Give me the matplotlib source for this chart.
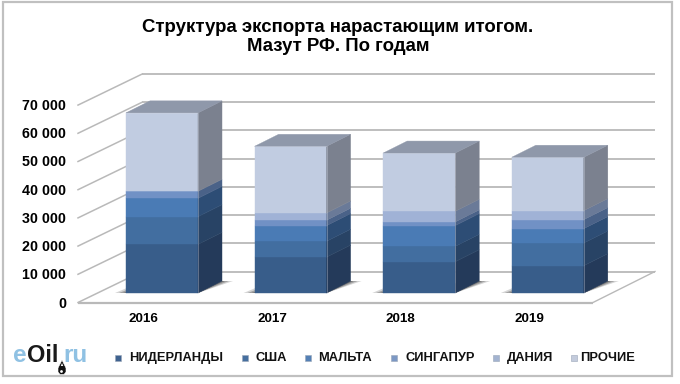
import matplotlib
matplotlib.use("Agg")
import matplotlib.pyplot as plt
from matplotlib.patches import Polygon, Rectangle
import numpy as np

plt.rcParams['font.family'] = ['Liberation Sans', 'DejaVu Sans']

years = ['2016', '2017', '2018', '2019']
series_names = ['НИДЕРЛАНДЫ', 'США', 'МАЛЬТА', 'СИНГАПУР', 'ДАНИЯ', 'ПРОЧИЕ']
niderlandy = [17240, 12750, 11100, 9670]
ssha = [9820, 5580, 5430, 8070]
malta = [6530, 5580, 7370, 5080]
singapur = [2490, 1890, 1300, 3190]
dania = [0, 2590, 3790, 3190]
prochie = [27800, 23620, 20630, 18930]
y_ticks = [0, 10000, 20000, 30000, 40000, 50000, 60000, 70000]
title_lines = 'Структура экспорта нарастающим итогом.\nМазут РФ. По годам'

front_cols = ['#385d8a', '#426ea0', '#4a7bb5', '#7191c5', '#a0b2d6', '#c1cce1']
side_cols = ['#243a5a', '#284365', '#2d4d75', '#4a6288', '#6a7a98', '#7b818f']
top_col = '#8f98aa'
legend_cols = ['#3f628f', '#466f9f', '#5480b5', '#7c98c4', '#a3b3d0', '#c3cbdc']
grid_col = '#b9b9b9'

W, H = 680, 384
PX_CAT = 128.6      # pixels per category
PX_VAL = 28.2 / 10000  # pixels per unit
X0, Y0 = 162.0, 293.0  # pixel of category 0 / value 0 at the bars' base

fig = plt.figure(figsize=(W / 100, H / 100), dpi=100, facecolor='white')
ax = fig.add_axes([0, 0, 1, 1])
ax.set_xlim(-X0 / PX_CAT, (W - X0) / PX_CAT)
ax.set_ylim((Y0 - H) / PX_VAL, Y0 / PX_VAL)
ax.axis('off')

def dx(px):
    return px / PX_CAT

def dy(px):
    return px / PX_VAL

def P(px, py):
    """pixel position to data position"""
    return ((px - X0) / PX_CAT, (Y0 - py) / PX_VAL)

# outer frame
ax.add_patch(Polygon([P(3, 2), P(672, 2), P(672, 376), P(3, 376)], closed=True, fill=False,
                     edgecolor='#c0c0c0', lw=1.6, zorder=1))

# wall grid: back lines and left obliques
floor_back_y = P(0, 271.5)[1]
bl = -X0 / PX_CAT + dx(142)
br = -X0 / PX_CAT + dx(655)
fl = -X0 / PX_CAT + dx(78)
for v in y_ticks:
    yb = floor_back_y + v
    ax.plot([bl, br], [yb, yb], color=grid_col, lw=1.3, zorder=2, solid_capstyle='butt')
    ax.plot([fl, bl], [yb - dy(31), yb], color=grid_col, lw=1.1, zorder=2)

# floor front and right edges
fr = -X0 / PX_CAT + dx(593)
y_front = floor_back_y - dy(31)
ax.plot([fl, fr], [y_front, y_front], color=grid_col, lw=1.6, zorder=2, solid_capstyle='butt')
ax.plot([fr, br], [y_front, floor_back_y], color=grid_col, lw=1.0, zorder=2)

# bars
stack = np.array([niderlandy, ssha, malta, singapur, dania, prochie], dtype=float)
x = np.arange(len(years))
bw = 72 / PX_CAT
ddx, ddy = dx(24), dy(12)

# floor shadows
for xi in x:
    l, r = xi - bw / 2, xi + bw / 2
    for grow, alpha in zip([11, 7, 3], [0.2, 0.3, 0.4]):
        ax.add_patch(Polygon([(l - dx(grow), 0), (r, 0), (r + ddx + dx(grow), ddy),
                              (r + ddx, ddy), (l + dx(2), dy(grow * 0.5))],
                             closed=True, facecolor='#303030', edgecolor='none',
                             alpha=alpha, zorder=3))

bottom = np.zeros(len(years))
for i, vals in enumerate(stack):
    ax.bar(x, vals, bw, bottom=bottom, color=front_cols[i], edgecolor=front_cols[i],
           linewidth=0.3, zorder=5)
    for xi, b, v in zip(x, bottom, vals):
        if v <= 0:
            continue
        r = xi + bw / 2
        ax.add_patch(Polygon([(r, b), (r + ddx, b + ddy), (r + ddx, b + v + ddy), (r, b + v)],
                             closed=True, facecolor=side_cols[i], edgecolor=side_cols[i],
                             lw=0.3, zorder=5))
    bottom += vals

for xi, t in zip(x, bottom):
    l, r = xi - bw / 2, xi + bw / 2
    ax.add_patch(Polygon([(l, t), (r, t), (r + ddx, t + ddy), (l + ddx, t + ddy)],
                         closed=True, facecolor=top_col, edgecolor=top_col, lw=0.3, zorder=5))
    ax.plot([l, r, r], [t, t, 0], color='#d5dbe8', lw=0.7, alpha=0.35, zorder=6)

# y tick labels
for v in y_ticks:
    ax.text(P(66, 0)[0], y_front + v - dy(1), f'{v:,}'.replace(',', ' '), ha='right', va='center',
            fontsize=10.3, fontweight='bold', color='black', zorder=7)

# x tick labels
for xi, yr in zip(x, years):
    ax.text(xi - dx(18.5), P(0, 318.5)[1], yr, ha='center', va='center',
            fontsize=9.6, fontweight='bold', color='black', zorder=7)

# title
ax.text(P(338, 0)[0], P(0, 37)[1], title_lines, ha='center', va='center',
        fontsize=13.4, fontweight='bold', color='black', linespacing=1.12, zorder=7)

# legend
sq_px = [117.5, 245, 308, 393.5, 496, 574]
tx_px = [129, 256, 318, 405, 507, 580]
for name, col, sx, tx in zip(series_names, legend_cols, sq_px, tx_px):
    ax.add_patch(Rectangle(P(sx - 3, 361), dx(6), dy(6), facecolor=col,
                           edgecolor='#9aa6b8', lw=0.4, zorder=7))
    ax.text(P(tx, 0)[0], P(0, 358)[1], name, ha='left', va='center',
            fontsize=9.3, fontweight='bold', color='#111111', zorder=7)

# logo
logo_y = P(0, 355.5)[1]
ax.text(P(12.5, 0)[0], logo_y, 'e', ha='left', va='center', fontsize=17.5, color='#8fc1e3',
        fontweight='bold', zorder=7)
ax.text(P(26.5, 0)[0], logo_y, 'Oil', ha='left', va='center', fontsize=17, color='#1a1a1a',
        fontweight='bold', zorder=7)
ax.text(P(63, 0)[0], logo_y, 'ru', ha='left', va='center', fontsize=17.5, color='#8fc1e3',
        fontweight='bold', zorder=7)
ax.add_patch(Polygon([P(62, 360), P(66, 368), P(66, 372), P(64, 374.5), P(60, 374.5),
                      P(58, 372), P(58, 368)], closed=True, facecolor='#111111',
                     edgecolor='white', lw=0.4, zorder=8))
ax.add_patch(Polygon([P(62, 363), P(63.2, 366), P(60.8, 366)], closed=True, facecolor='white',
                     edgecolor='none', zorder=9))
ax.scatter(*P(60.5, 371), s=4, color='white', marker='o', zorder=9, linewidths=0)

fig.savefig('out.png', dpi=100)
